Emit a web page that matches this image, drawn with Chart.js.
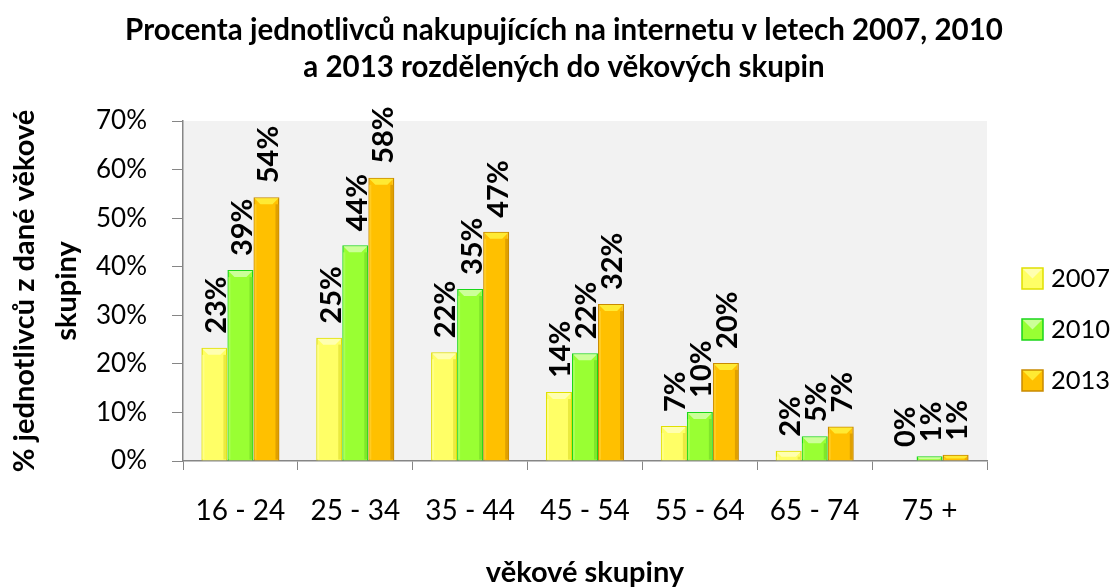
<!DOCTYPE html>
<html>
<head>
<meta charset="utf-8">
<script src="https://cdn.jsdelivr.net/npm/chart.js@4"></script>
<style>
  body { margin: 0; background: #fff; }
  #wrap { width: 1117px; height: 587px; }
</style>
</head>
<body>
<div id="wrap"><canvas id="chart" width="1117" height="587"></canvas></div>
<script>
// Data
const ageGroups = ['16 - 24', '25 - 34', '35 - 44', '45 - 54', '55 - 64', '65 - 74', '75 +'];
const years = ['2007', '2010', '2013'];
const values2007 = [23.3, 25.4, 22.4, 14.2, 7.2, 2.1, 0];
const values2010 = [39.3, 44.4, 35.4, 22.2, 10.1, 5.1, 1.0];
const values2013 = [54.3, 58.3, 47.2, 32.3, 20.2, 7.1, 1.3];
const yTicks = [0, 10, 20, 30, 40, 50, 60, 70];
const titleLines = ['Procenta jednotlivců nakupujících na internetu v letech 2007, 2010',
                    'a 2013 rozdělených do věkových skupin'];

const FONT = 'Lato, "Open Sans", sans-serif';

// fill, border, top facet, left facet, right facet
const palette = [
    { fill: '#ffff66', border: '#e0e000', top: '#ffffb0', left: '#ffff88', right: '#eaea40' },
    { fill: '#99ff33', border: '#1ad61a', top: '#ccff99', left: '#aaff55', right: '#80e62a' },
    { fill: '#ffc000', border: '#c98a00', top: '#ffea33', left: '#ffcc22', right: '#e0a000' }
];

const seriesValues = [values2007, values2010, values2013];

// Light grey plot background + chart title
const plotBackground = {
    id: 'plotBackground',
    beforeDraw(chart) {
        const { ctx, chartArea } = chart;
        ctx.save();
        ctx.fillStyle = '#f2f2f2';
        ctx.fillRect(chartArea.left, chartArea.top, chartArea.right - chartArea.left, chartArea.bottom - chartArea.top);
        ctx.fillStyle = '#000';
        ctx.font = 'bold 29.5px ' + FONT;
        ctx.textAlign = 'center';
        ctx.textBaseline = 'middle';
        ctx.fillText(titleLines[0], 564, 30);
        ctx.fillText(titleLines[1], 564, 67);
        ctx.restore();
    }
};

// Bevel facets, rotated value labels and the legend
const barDecor = {
    id: 'barDecor',
    afterDatasetsDraw(chart) {
        const ctx = chart.ctx;
        ctx.save();
        chart.data.datasets.forEach((ds, i) => {
            const meta = chart.getDatasetMeta(i);
            const col = palette[i];
            meta.data.forEach(bar => {
                const h = bar.base - bar.y;
                if (h < 2) return;
                const x0 = bar.x - bar.width / 2 + 1;
                const x1 = bar.x + bar.width / 2 - 1;
                const y0 = bar.y + 1;
                const b = Math.min(6, h / 2, bar.width / 2);
                ctx.fillStyle = col.top;
                ctx.beginPath();
                ctx.moveTo(x0, y0); ctx.lineTo(x1, y0);
                ctx.lineTo(x1 - b, y0 + b); ctx.lineTo(x0 + b, y0 + b);
                ctx.closePath(); ctx.fill();
                ctx.fillStyle = col.left;
                ctx.fillRect(x0, y0 + b, 2, h - b - 2);
                ctx.fillStyle = col.right;
                ctx.fillRect(x1 - 3, y0 + b, 3, h - b - 2);
            });
        });

        ctx.fillStyle = '#000';
        ctx.font = 'bold 29px ' + FONT;
        ctx.textAlign = 'left';
        ctx.textBaseline = 'middle';
        chart.data.datasets.forEach((ds, i) => {
            const meta = chart.getDatasetMeta(i);
            meta.data.forEach((bar, j) => {
                ctx.save();
                ctx.translate(bar.x + 2, bar.y - 14);
                ctx.rotate(-Math.PI / 2);
                ctx.fillText(Math.round(ds.data[j]) + '%', 0, 0);
                ctx.restore();
            });
        });

        // legend
        const legendY = [278, 329, 380];
        ctx.font = '25.5px ' + FONT;
        ctx.textBaseline = 'middle';
        years.forEach((y, i) => {
            const col = palette[i];
            const bx = 1022, by = legendY[i] - 10, s = 21;
            ctx.fillStyle = col.fill;
            ctx.fillRect(bx, by, s, s);
            ctx.fillStyle = col.top;
            ctx.beginPath();
            ctx.moveTo(bx, by); ctx.lineTo(bx + s, by);
            ctx.lineTo(bx + s / 2, by + s / 2); ctx.closePath(); ctx.fill();
            ctx.strokeStyle = col.border;
            ctx.lineWidth = 1.5;
            ctx.strokeRect(bx, by, s, s);
            ctx.fillStyle = '#000';
            ctx.fillText(y, 1051, legendY[i] + 1);
        });
        ctx.restore();
    }
};

const datasets = years.map((y, i) => ({
    label: y,
    data: seriesValues[i],
    backgroundColor: palette[i].fill,
    borderColor: palette[i].border,
    borderWidth: 1.5,
    categoryPercentage: 0.68,
    barPercentage: 1.0
}));

new Chart(document.getElementById('chart'), {
    type: 'bar',
    data: { labels: ageGroups, datasets },
    options: {
        responsive: false,
        animation: false,
        devicePixelRatio: 1,
        layout: { padding: { left: 0, right: 130, top: 121, bottom: 0 } },
        plugins: {
            legend: { display: false },
            tooltip: { enabled: false },
            title: { display: false }
        },
        scales: {
            x: {
                grid: { display: true, drawOnChartArea: false, drawTicks: true, tickLength: 9, color: '#868686', offset: true },
                border: { color: '#868686', width: 1.5 },
                ticks: { color: '#000', font: { family: FONT, size: 28 }, padding: 24, maxRotation: 0 },
                title: {
                    display: true,
                    text: 'věkové skupiny',
                    color: '#000',
                    font: { family: FONT, size: 29, weight: 'bold', lineHeight: 1.0 },
                    padding: { top: 0, bottom: 0 }
                },
                afterFit(scale) { scale.height = 126; }
            },
            y: {
                min: 0,
                max: 70,
                afterBuildTicks(scale) { scale.ticks = yTicks.map(v => ({ value: v })); },
                grid: { display: true, drawOnChartArea: false, drawTicks: true, tickLength: 11, color: '#868686' },
                border: { color: '#868686', width: 1.5 },
                ticks: { color: '#000', font: { family: FONT, size: 26 }, padding: 25, callback: v => v + '%' },
                title: {
                    display: true,
                    text: ['% jednotlivců z dané věkové', 'skupiny'],
                    color: '#000',
                    font: { family: FONT, size: 29, weight: 'bold', lineHeight: 1.45 },
                    padding: { top: 4, bottom: 0 }
                },
                afterFit(scale) { scale.width = 183; }
            }
        }
    },
    plugins: [plotBackground, barDecor]
});
</script>
</body>
</html>
